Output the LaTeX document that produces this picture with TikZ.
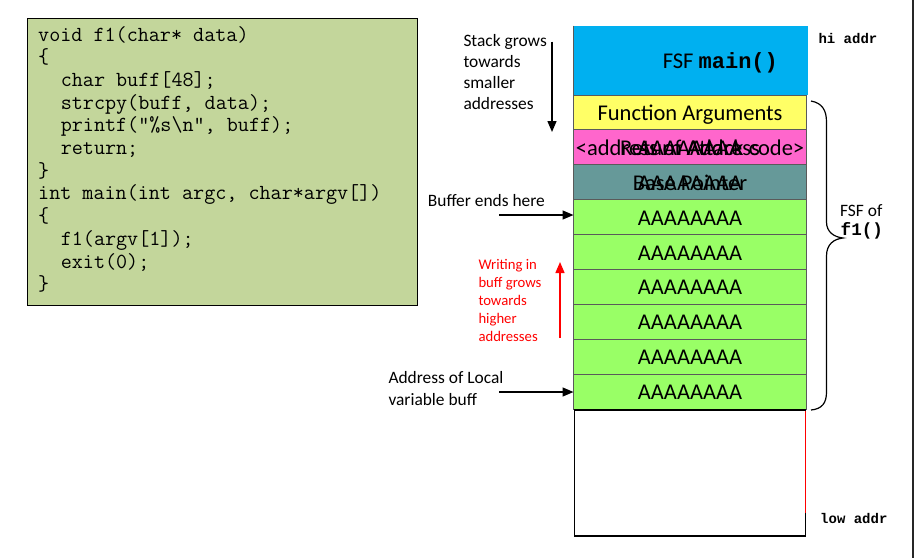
\documentclass[tikz,border=0pt]{standalone}
\usepackage{fontspec}
\setmainfont{Carlito}
\newfontfamily\boldmono{Liberation Mono}
\usetikzlibrary{arrows.meta,positioning}
\definecolor{codebg}{HTML}{C3D69B}
\definecolor{fsfblue}{HTML}{00B0F0}
\definecolor{argyellow}{HTML}{FFFF66}
\definecolor{retpink}{HTML}{FF66CC}
\definecolor{bpteal}{HTML}{669999}
\definecolor{bufgreen}{HTML}{99FF66}
\definecolor{rowline}{HTML}{5A5A5A}
\definecolor{arrred}{HTML}{FF0000}
\begin{document}
\begin{tikzpicture}[x=1pt,y=-1pt,
  codeline/.style={anchor=base west, inner sep=0pt, font=\fontsize{21.5}{22.7}\selectfont\ttfamily},
  lbl/.style={anchor=base west, inner sep=0pt, font=\fontsize{17.4}{21}\selectfont},
  redlbl/.style={anchor=base west, inner sep=0pt, text=arrred, font=\fontsize{14.7}{18}\selectfont},
  addrlbl/.style={anchor=base west, inner sep=0pt, font=\fontsize{14}{17}\selectfont\boldmono\bfseries},
  cell/.style={draw=rowline, line width=1pt, minimum width=233pt, minimum height=34.9pt, inner sep=0pt, outer sep=0pt},
  celltext/.style={anchor=base, inner sep=0pt, font=\fontsize{22.5}{26}\selectfont},
  blackarrow/.style={line width=1.4pt, -{Triangle[length=11pt,width=9pt]}},
  redarrow/.style={line width=1.4pt, draw=arrred, -{Triangle[length=11pt,width=9pt]}, arrred}
]
\useasboundingbox (0,0) rectangle (915,558);
\fill[white] (0,0) rectangle (915,558);
\fill[black!85] (911.5,0) rectangle (914,558);

% code box
\node[draw=black, line width=1.4pt, fill=codebg, minimum width=390pt, minimum height=287pt, anchor=north west, inner sep=0pt] (code) at (27,18) {};
\node[codeline] (c1) at (38,41) {void f1(char* data)};
\node[codeline] (c2) at (38,63.7) {\{};
\node[codeline] (c3) at (60.6,86.4) {char buff[48];};
\node[codeline] (c4) at (60.6,109.1) {strcpy(buff, data);};
\node[codeline] (c5) at (60.6,131.8) {printf("\%s\textbackslash n", buff);};
\node[codeline] (c6) at (60.6,154.5) {return;};
\node[codeline] (c7) at (38,177.2) {\}};
\node[codeline] (c8) at (38,199.9) {int main(int argc, char*argv[])};
\node[codeline] (c9) at (38,222.6) {\{};
\node[codeline] (c10) at (60.6,245.3) {f1(argv[1]);};
\node[codeline] (c11) at (60.6,268) {exit(0);};
\node[codeline] (c12) at (38,290.7) {\}};

% stack column
\node[cell, draw=none, fill=fsfblue, minimum height=69.3pt, minimum width=234pt, anchor=north west] (mainf) at (573.5,25.7) {};
\draw[rowline, line width=1pt] (mainf.north west) -- (mainf.south west);
\node[celltext, anchor=base west] (mainlbl) at (662.7,68.3) {FSF \fontsize{22}{26}\selectfont\boldmono\bfseries main()};

\node[cell, fill=argyellow, anchor=north west] (args) at (573.5,95) {};
\node[cell, fill=retpink, below=0pt of args] (ret) {};
\node[cell, fill=bpteal, below=0pt of ret] (bp) {};
\node[cell, fill=bufgreen, below=0pt of bp] (g1) {};
\node[cell, fill=bufgreen, below=0pt of g1] (g2) {};
\node[cell, fill=bufgreen, below=0pt of g2] (g3) {};
\node[cell, fill=bufgreen, below=0pt of g3] (g4) {};
\node[cell, fill=bufgreen, below=0pt of g4] (g5) {};
\node[cell, fill=bufgreen, below=0pt of g5] (g6) {};
\node[draw=black, line width=1.3pt, fill=white, minimum width=231pt, minimum height=126pt, anchor=north west, inner sep=0pt] (low) at (573.5,409.3) {};
\draw[arrred, line width=0.8pt] (805.2,411) -- (805.2,513);

\node[celltext] (targs) at ([yshift=-8pt]args.center) {Function Arguments};
\node[celltext] (tret1) at ([yshift=-8pt]ret.center) {<address of Attack code>};
\node[celltext] (tret2) at ([yshift=-8pt]ret.center) {Return Address};
\node[celltext] (tret3) at ([yshift=-8pt]ret.center) {AAAAAAAA};
\node[celltext] (tbp1) at ([yshift=-8pt]bp.center) {Base Pointer};
\node[celltext] (tbp2) at ([yshift=-8pt]bp.center) {AAAAAAAA};
\foreach \g in {g1,g2,g3,g4,g5,g6}{
  \node[celltext] (t\g) at ([yshift=-8pt]\g.center) {AAAAAAAA};
}

% brace
\draw[black, line width=1.2pt] (811,101) .. controls (822,103) and (826.5,110) .. (826.5,122)
  -- (826.5,222) .. controls (826.5,232) and (834,237) .. (843,238)
  .. controls (834,239) and (826.5,244) .. (826.5,256)
  -- (826.5,392) .. controls (826.5,403) and (822,409) .. (811,410);
\node[lbl] (fsfof) at (840,216.7) {FSF of};
\node[anchor=base west, inner sep=0pt, font=\fontsize{17.6}{20}\selectfont\boldmono\bfseries] (f1lbl) at (840.5,235) {f1()};

\node[addrlbl] (hi) at (818.3,43) {hi addr};
\node[addrlbl] (lo) at (820,523) {low addr};

% left labels
\node[lbl] (s1) at (463.3,46.7) {Stack grows};
\node[lbl] (s2) at (463.3,67.7) {towards};
\node[lbl] (s3) at (463.3,88.7) {smaller};
\node[lbl] (s4) at (463.3,109.7) {addresses};
\coordinate (sgtop) at (552,41.5);
\coordinate (sgbot) at (552,132);
\draw[blackarrow] (sgtop) -- (sgbot);

\node[lbl] (bufend) at (427.7,206.7) {Buffer ends here};
\coordinate (bufstart) at (499,215);
\draw[blackarrow] (bufstart) -- (g1.west |- bufstart);

\node[redlbl] (w1) at (478.3,269.3) {Writing in};
\node[redlbl] (w2) at (478.3,287.3) {buff grows};
\node[redlbl] (w3) at (478.3,305.3) {towards};
\node[redlbl] (w4) at (478.3,323.3) {higher};
\node[redlbl] (w5) at (478.3,341.3) {addresses};
\coordinate (rbot) at (560,338);
\coordinate (rtop) at (560,262);
\draw[redarrow] (rbot) -- (rtop);

\node[lbl] (a1) at (388.3,383.3) {Address of Local};
\node[lbl] (a2) at (388.3,405) {variable buff};
\coordinate (adstart) at (499,392);
\draw[blackarrow] (adstart) -- (g6.west |- adstart);
\end{tikzpicture}
\end{document}
